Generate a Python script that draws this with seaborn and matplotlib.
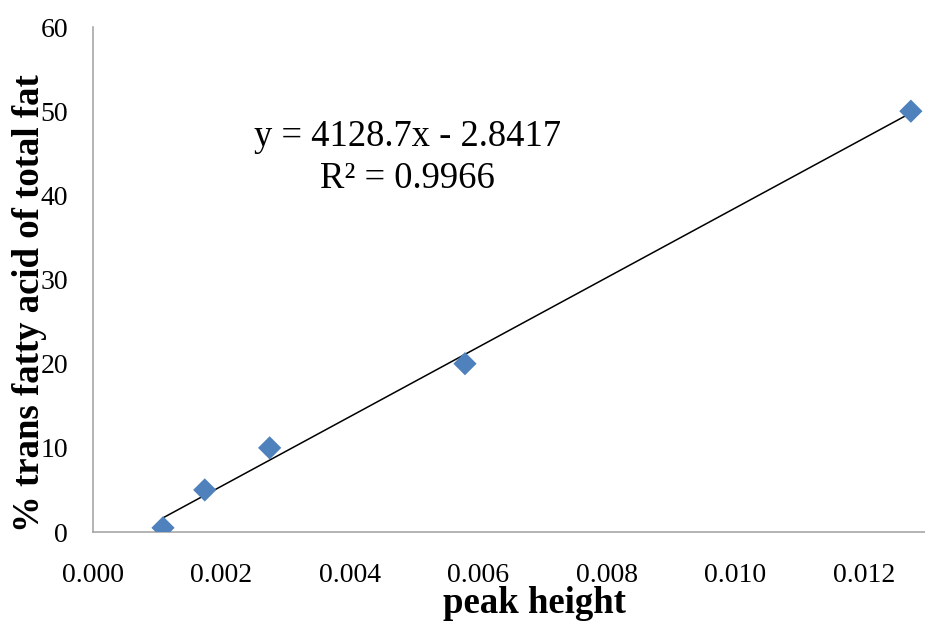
import numpy as np
import pandas as pd
import matplotlib
matplotlib.use("Agg")
import matplotlib.pyplot as plt
import seaborn as sns

peak_height = [0.00109, 0.00174, 0.00275, 0.00579, 0.01273]
trans_fat = [0.5, 5, 10, 20, 50]
x_ticks = [0.000, 0.002, 0.004, 0.006, 0.008, 0.010, 0.012]
y_ticks = [0, 10, 20, 30, 40, 50, 60]
equation_text = "y = 4128.7x - 2.8417"
r2_text = "R² = 0.9966"

df = pd.DataFrame({"peak height": peak_height, "trans": trans_fat})

sns.set_style("white")
plt.rcParams["font.family"] = ["Liberation Serif", "DejaVu Serif"]
plt.rcParams["text.color"] = "black"

fig = plt.figure(figsize=(9.25, 6.24), dpi=100)
ax = fig.add_axes([0.1005, 0.1474, 0.8995, 0.8093])

sns.regplot(data=df, x="peak height", y="trans", ax=ax, ci=None, truncate=True,
            marker="D",
            scatter_kws={"s": 140, "color": "#4F81BD", "alpha": 1.0,
                         "edgecolor": "none", "zorder": 3},
            line_kws={"color": "black", "linewidth": 1.1, "zorder": 2})

ax.set_xlim(0, 0.01295)
ax.set_ylim(0, 60)
ax.set_xticks(x_ticks)
ax.set_xticklabels([f"{v:.3f}" for v in x_ticks])
ax.set_yticks(y_ticks)
ax.set_yticklabels([str(v) for v in y_ticks])

for s in ["top", "right"]:
    ax.spines[s].set_visible(False)
for s in ["left", "bottom"]:
    ax.spines[s].set_color("#A0A0A0")
    ax.spines[s].set_linewidth(1.1)

ax.tick_params(axis="both", which="major", direction="out", length=6,
               width=1.1, color="#A0A0A0", labelsize=20, labelcolor="black")
ax.tick_params(axis="x", pad=16)
ax.tick_params(axis="y", pad=12)

ax.set_xlabel("peak height", fontsize=26.5, fontweight="bold", color="black")
ax.xaxis.label.set_va("baseline")
ax.xaxis.set_label_coords(0.530, -0.1604)

ax.set_ylabel("% trans fatty acid of total fat", fontsize=26.5, fontweight="bold",
              color="black")
ax.yaxis.label.set_va("baseline")
ax.yaxis.set_label_coords(-0.0649, 0.4535)

ax.text(0.0049, 47.0, equation_text, fontsize=26.3, ha="center", va="center", color="black")
ax.text(0.0049, 42.0, r2_text, fontsize=26.3, ha="center", va="center", color="black")

fig.savefig("out.png", dpi=100)
